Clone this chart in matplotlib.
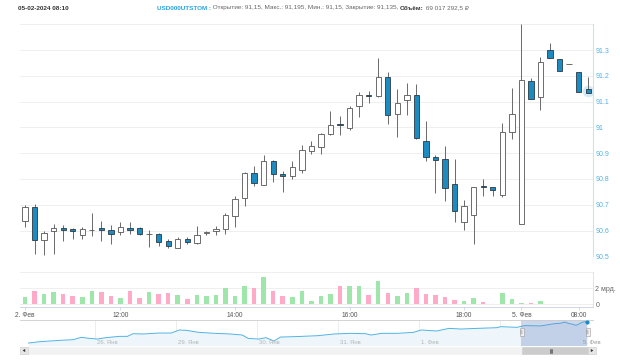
import matplotlib
matplotlib.use("Agg")
import matplotlib.pyplot as plt
import numpy as np
from matplotlib.patches import Rectangle, Polygon

# ---------------- data ----------------
opens = [90.638, 90.690, 90.565, 90.597, 90.610, 90.606, 90.584, 90.601, 90.609, 90.603,
         90.594, 90.609, 90.609, 90.586, 90.586, 90.561, 90.534, 90.569, 90.552, 90.591,
         90.597, 90.607, 90.658, 90.725, 90.824, 90.778, 90.870, 90.821, 90.813, 90.834,
         90.907, 90.924, 90.973, 91.014, 90.996, 91.084, 91.127, 91.120, 91.194, 91.053,
         91.105, 91.125, 90.947, 90.885, 90.878, 90.779, 90.634, 90.660, 90.774, 90.768,
         90.739, 90.981, 90.625, 91.179, 91.119, 91.299, 91.264, 91.247, 91.214, 91.150]
highs = [90.699, 90.703, 90.600, 90.625, 90.623, 90.609, 90.612, 90.669, 90.638, 90.621,
         90.635, 90.635, 90.612, 90.601, 90.590, 90.566, 90.573, 90.573, 90.618, 90.600,
         90.618, 90.667, 90.732, 90.826, 90.851, 90.892, 90.872, 90.830, 90.869, 90.930,
         90.948, 90.980, 91.065, 91.043, 91.083, 91.138, 91.142, 91.268, 91.216, 91.150,
         91.172, 91.167, 91.026, 90.892, 90.927, 90.876, 90.718, 90.770, 90.800, 90.768,
         91.017, 91.153, 91.400, 91.192, 91.273, 91.326, 91.264, 91.247, 91.214, 91.195]
lows = [90.612, 90.508, 90.504, 90.510, 90.560, 90.566, 90.567, 90.578, 90.560, 90.548,
        90.584, 90.586, 90.581, 90.536, 90.539, 90.534, 90.531, 90.547, 90.547, 90.584,
        90.584, 90.588, 90.613, 90.694, 90.772, 90.776, 90.789, 90.750, 90.800, 90.824,
        90.895, 90.898, 90.970, 90.970, 90.990, 91.041, 91.093, 91.118, 91.013, 90.961,
        91.050, 90.955, 90.870, 90.744, 90.716, 90.634, 90.601, 90.546, 90.735, 90.735,
        90.731, 90.955, 90.625, 91.110, 91.069, 91.268, 91.217, 91.247, 91.136, 91.135]
closes = [90.692, 90.565, 90.592, 90.610, 90.601, 90.600, 90.604, 90.601, 90.603, 90.588,
          90.612, 90.603, 90.586, 90.588, 90.556, 90.540, 90.569, 90.554, 90.584, 90.593,
          90.607, 90.659, 90.721, 90.824, 90.786, 90.869, 90.821, 90.813, 90.846, 90.914,
          90.929, 90.973, 91.008, 91.008, 91.077, 91.124, 91.120, 91.194, 91.050, 91.094,
          91.125, 90.960, 90.886, 90.872, 90.764, 90.675, 90.697, 90.768, 90.768, 90.756,
          90.981, 91.052, 91.182, 91.110, 91.253, 91.268, 91.217, 91.247, 91.136, 91.135]
volumes_bn = [0.86, 1.68, 1.27, 1.47, 1.23, 1.02, 0.86, 1.68, 1.55, 1.02,
              0.78, 1.68, 0.78, 1.47, 1.27, 1.43, 1.10, 0.70, 1.10, 1.02,
              1.19, 1.96, 1.02, 2.21, 1.96, 3.31, 1.64, 1.02, 0.86, 1.64,
              0.45, 1.02, 1.27, 2.29, 2.21, 2.21, 1.10, 2.90, 1.43, 1.02,
              1.43, 1.96, 1.27, 1.15, 0.94, 0.53, 0.45, 0.74, 0.33, 0.02,
              1.43, 0.65, 0.12, 0.12, 0.37, 0.05, 0.04, 0.02, 0.06, 0.069]

x_tick_idx = [0, 10, 22, 34, 46, 52, 58]
x_tick_labels = ["2. Фев", "12:00", "14:00", "16:00", "18:00", "5. Фев", "08:00"]
price_grid = [90.5, 90.6, 90.7, 90.8, 90.9, 91.0, 91.1, 91.2, 91.3, 91.4]
price_tick_labels = ["90.5", "90.6", "90.7", "90.8", "90.9", "91", "91.1", "91.2", "91.3", ""]
vol_grid = [0, 2, 4]
vol_tick_labels = ["0", "2 мрд.", ""]

nav_x = [-0.82, -0.68, -0.44, -0.27, -0.17, -0.07, 0.03, 0.13, 0.30, 0.40, 0.47, 0.59,
         0.79, 0.94, 1.04, 1.13, 1.28, 1.48, 1.67, 1.82, 1.89, 2.02, 2.11, 2.21, 2.29,
         2.46, 2.75, 2.95, 3.15, 3.34, 3.41, 3.54, 3.73, 3.93, 4.03, 4.22, 4.37, 4.52,
         4.72, 4.96, 5.01, 5.21, 5.30, 5.40, 5.50, 5.58, 5.66, 5.75, 5.80, 5.85, 5.89,
         5.94, 5.99, 6.02, 6.05, 6.08]
nav_y = [87.73, 87.95, 88.17, 88.28, 88.67, 88.50, 88.39, 88.61, 88.83, 88.83, 89.27, 89.22,
         89.38, 89.38, 89.88, 89.82, 89.49, 89.33, 89.22, 89.05, 88.50, 88.39, 88.61, 88.06,
         88.72, 88.78, 88.94, 89.22, 89.33, 89.27, 89.05, 89.33, 89.33, 89.49, 89.88, 89.71,
         90.15, 90.04, 90.15, 90.26, 90.43, 90.32, 90.60, 90.58, 90.55, 90.72, 90.90, 91.00,
         91.19, 90.95, 90.85, 90.65, 90.98, 91.18, 91.25, 91.14]
nav_grid = [0, 1, 2, 3, 4, 5]
nav_tick_labels = ["26. Янв", "29. Янв", "30. Янв", "31. Янв", "1. Фев", ""]
nav_end_label = "5. Фев"
nav_end_pos = 6.03
sel_start, sel_end = 5.265, 6.08

header_date = "05-02-2024 08:10"
header_ticker = "USD000UTSTOM :"
header_ohlc = " Открытие: 91,15, Макс.: 91,195, Мин.: 91,15, Закрытие: 91,135, "
header_vol_label = "Объём:"
header_vol_value = " 69 017 292,5 ₽"

# ---------------- styling ----------------
FONT = ["Liberation Sans", "DejaVu Sans"]
plt.rcParams["font.family"] = FONT
W, H = 620, 361
UP_FACE, DOWN_FACE = "#ffffff", "#1b8bc2"
EDGE_UP, EDGE_DOWN = "#555555", "#2a3a44"
WICK = "#6a6a6a"
VOL_UP, VOL_DOWN = "#9ee6aa", "#ffabc8"
GRID = "#ececec"
AXLINE = "#d5deec"


def fx(px):
    return px / W


def fy(py):
    return 1 - py / H


fig = plt.figure(figsize=(W / 100, H / 100), dpi=100)
fig.patch.set_facecolor("white")

# ---------------- candle pane ----------------
x0, x1 = 20, 592.7
idx = np.arange(len(opens))
o = np.array(opens); h = np.array(highs); l = np.array(lows); c = np.array(closes)
up = c >= o

ax = fig.add_axes([fx(x0), fy(256.3), (x1 - x0) / W, (256.3 - 24.3) / H])
ax.set_xlim(-0.524, 59.47)
ax.set_ylim(90.5, 91.4)
for s in ["top", "left", "bottom"]:
    ax.spines[s].set_visible(False)
ax.spines["right"].set_color(AXLINE)
ax.spines["right"].set_linewidth(0.8)
ax.yaxis.tick_right()
ax.set_yticks(price_grid)
ax.set_yticklabels(price_tick_labels)
ax.tick_params(axis="y", length=0, pad=2.0, labelsize=5, labelcolor="#4fb2e3")
ax.set_xticks([])
ax.grid(axis="y", color=GRID, linewidth=0.6)
ax.set_axisbelow(True)

ax.vlines(idx, l, h, color=WICK, linewidth=0.7, zorder=2)
body_bottom = np.minimum(o, c)
body_h = np.maximum(np.abs(c - o), 0.0008)
ax.bar(idx[up], body_h[up], bottom=body_bottom[up], width=0.56,
       facecolor=UP_FACE, edgecolor=EDGE_UP, linewidth=0.6, zorder=3)
ax.bar(idx[~up], body_h[~up], bottom=body_bottom[~up], width=0.56,
       facecolor=DOWN_FACE, edgecolor=EDGE_DOWN, linewidth=0.6, zorder=3)
# hover halo on last point
ax.scatter([idx[-1]], [(o[-1] + c[-1]) / 2], s=70, color=DOWN_FACE, alpha=0.18,
           zorder=1, linewidths=0)

# ---------------- volume pane ----------------
axv = fig.add_axes([fx(x0), fy(307), (x1 - x0) / W, (307 - 271.7) / H])
axv.set_xlim(-0.524, 59.47)
axv.set_ylim(-0.33, 4.0)
for s in ["top", "left"]:
    axv.spines[s].set_visible(False)
axv.spines["right"].set_color(AXLINE)
axv.spines["right"].set_linewidth(0.6)
axv.spines["bottom"].set_color("#ccd6eb")
axv.spines["bottom"].set_linewidth(0.7)
axv.yaxis.tick_right()
axv.set_yticks(vol_grid)
axv.set_yticklabels(vol_tick_labels)
axv.tick_params(axis="y", length=0, pad=2.0, labelsize=5, labelcolor="#666666")
axv.grid(axis="y", color=GRID, linewidth=0.6)
axv.set_axisbelow(True)
vcolors = [VOL_UP if u else VOL_DOWN for u in up]
axv.bar(idx, volumes_bn, width=0.47, color=vcolors, linewidth=0, zorder=2)
axv.set_xticks(x_tick_idx)
axv.set_xticklabels(x_tick_labels)
axv.tick_params(axis="x", length=2.4, width=0.6, color="#ccd6eb", pad=1.5,
                labelsize=4.8, labelcolor="#555555")

# ---------------- navigator ----------------
nav_l, nav_r = 20, 594
axn = fig.add_axes([fx(nav_l), fy(345.7), (nav_r - nav_l) / W, (345.7 - 319.7) / H])
axn.set_xlim((nav_l - 95) / 81, (nav_r - 95) / 81)
axn.set_ylim(87.29, 91.58)
for s in axn.spines.values():
    s.set_visible(False)
axn.set_xticks([]); axn.set_yticks([])
for g, lab in zip(nav_grid, nav_tick_labels):
    axn.axvline(g, color="#e6e6e6", linewidth=0.5, zorder=1)
    if lab:
        axn.text(g + 0.03, 87.29 + 0.13 * (91.58 - 87.29), lab, fontsize=4.3,
                 color="#b5b5b5", ha="left", va="center", zorder=5)
axn.text(nav_end_pos, 87.29 + 0.13 * (91.58 - 87.29), nav_end_label, fontsize=4.3,
         color="#9a9a9a", ha="left", va="center", zorder=6, clip_on=False)
axn.fill_between(nav_x, nav_y, 87.29, color="#eef6fb", zorder=2, linewidth=0)
axn.plot(nav_x, nav_y, color="#4fb3e3", linewidth=0.7, zorder=3)
axn.scatter([nav_x[-1]], [nav_y[-1]], s=4, color="#1b8bc2", zorder=6)
axn.axvspan(sel_start, sel_end, color="#6685c2", alpha=0.32, linewidth=0, zorder=4)
axn.axhline(91.58, color="#cccccc", linewidth=0.6, zorder=5)

# ---------------- header / scrollbar overlay ----------------
axo = fig.add_axes([0, 0, 1, 1], zorder=10)
axo.set_xlim(0, W); axo.set_ylim(H, 0)
axo.axis("off")
axo.patch.set_visible(False)

# navigator handles
for hx in (521.5, 587.5):
    axo.add_patch(Rectangle((hx - 2.0, 328.3), 4.0, 7.5, facecolor="#f2f2f2",
                            edgecolor="#999999", linewidth=0.4))
    axo.plot([hx - 0.6, hx - 0.6], [330.3, 333.8], color="#777777", linewidth=0.3)
    axo.plot([hx + 0.6, hx + 0.6], [330.3, 333.8], color="#777777", linewidth=0.3)

# scrollbar
sb_y, sb_h = 346.7, 7.6
axo.add_patch(Rectangle((20, sb_y), 576, sb_h, facecolor="#f2f2f2", edgecolor="#f2f2f2",
                        linewidth=0.4))
axo.add_patch(Rectangle((521.5, sb_y), 66.5, sb_h, facecolor="#cccccc",
                        edgecolor="#cccccc", linewidth=0.4))
for xx in (549.6, 551.0, 552.4):
    axo.plot([xx, xx], [348.6, 352.6], color="#333333", linewidth=0.4)
axo.add_patch(Rectangle((20, sb_y), 8, sb_h, facecolor="#e6e6e6", edgecolor="#cccccc",
                        linewidth=0.4))
axo.add_patch(Rectangle((588, sb_y), 8, sb_h, facecolor="#e6e6e6", edgecolor="#cccccc",
                        linewidth=0.4))
axo.add_patch(Polygon([(22.6, 350.5), (25.2, 348.9), (25.2, 352.1)], closed=True,
                      facecolor="#333333", edgecolor="none"))
axo.add_patch(Polygon([(593.4, 350.5), (590.8, 348.9), (590.8, 352.1)], closed=True,
                      facecolor="#333333", edgecolor="none"))

# header
hs = 4.6
t1 = axo.text(18, 8, header_date, fontsize=hs, fontweight="bold", color="#333333",
              ha="left", va="center", family=FONT)
t2 = axo.text(157, 8, header_ticker, fontsize=hs, fontweight="bold", color="#2ba3dc",
              ha="left", va="center", family=FONT)
t3 = axo.annotate(header_ohlc, xy=(1, 0), xycoords=t2, ha="left", va="bottom",
                  fontsize=hs, color="#666666", family=FONT)
t4 = axo.annotate(header_vol_label, xy=(1, 0), xycoords=t3, ha="left", va="bottom",
                  fontsize=hs, fontweight="bold", color="#333333", family=FONT)
t5 = axo.annotate(header_vol_value, xy=(1, 0), xycoords=t4, ha="left", va="bottom",
                  fontsize=hs, color="#666666", family=FONT)

fig.savefig("out.png", dpi=100, facecolor="white")
